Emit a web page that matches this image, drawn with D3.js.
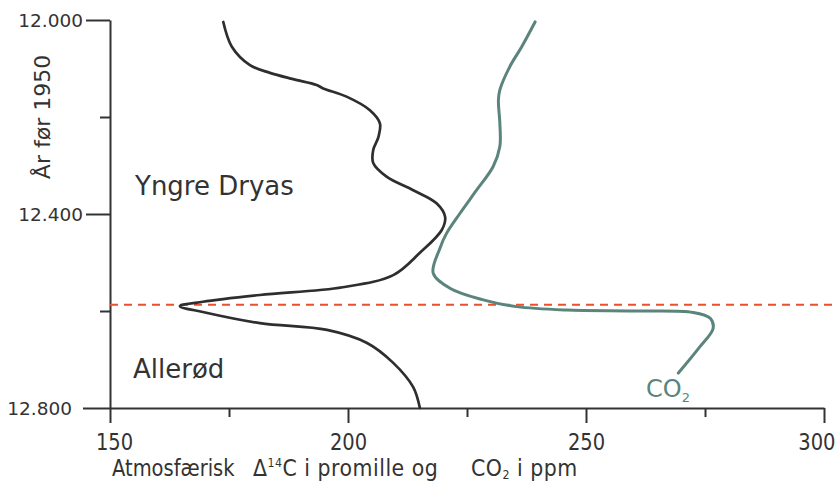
<!DOCTYPE html>
<html>
<head>
<meta charset="utf-8">
<script src="https://cdn.jsdelivr.net/npm/d3@7"></script>
<style>
  body { margin: 0; background: #fff; }
  svg { display: block; }
</style>
</head>
<body>
<svg id="chart" width="838" height="486"></svg>
<script>
// Year axis (years before 1950), reversed so older years are lower
const yearMajor = [12000, 12400, 12800];
const yearMinor = [12200, 12600];
const yearLabels = ["12.000", "12.400", "12.800"];

// Value axis: atmospheric Δ14C (per mille) and CO2 (ppm)
const valueMajor = [150, 200, 250, 300];
const valueMinor = [175, 225, 275];
const valueLabels = ["150", "200", "250", "300"];

// Δ14C record: [value, year]
const delta14C = [
  [173.8, 12004], [175.6, 12055], [179.4, 12093], [183.6, 12109],
  [188.5, 12122], [193.4, 12134], [194.8, 12141], [199.7, 12158],
  [204.6, 12186], [206.7, 12213], [206.4, 12241], [205.3, 12268],
  [205.3, 12295], [208.1, 12323], [213.7, 12351], [218.6, 12378],
  [220.4, 12406], [219.7, 12433], [215.1, 12480], [209.5, 12526],
  [198.9, 12551], [181.5, 12567], [169.5, 12581], [164.7, 12590],
  [169.5, 12602], [181.5, 12625], [195.6, 12639], [204.0, 12666],
  [209.5, 12707], [213.7, 12757], [215.1, 12800]
];

// CO2 record: [ppm, year]
const co2 = [
  [239.3, 12004], [236.5, 12055], [234.0, 12096], [231.9, 12144],
  [231.6, 12165], [231.9, 12213], [231.9, 12261], [230.5, 12302],
  [227.0, 12351], [223.5, 12399], [220.7, 12440], [219.3, 12471],
  [217.9, 12522], [221.4, 12553], [228.4, 12577], [235.4, 12591],
  [245.9, 12598], [259.9, 12600], [272.5, 12603], [276.1, 12615],
  [276.7, 12636], [273.9, 12674], [269.4, 12728]
];

// Younger Dryas / Allerød boundary
const boundaryYear = 12587;

const svg = d3.select("#chart");
const FONT = "'DejaVu Sans', sans-serif";
const AXIS = "#333";
const TEAL = "#5a847c";

const x = d3.scaleLinear().domain([150, 300]).range([110, 824]);
const y = d3.scaleLinear().domain([12000, 12800]).range([20, 408]);

// ---- Y axis ----
const yAxisG = svg.append("g").attr("transform", `translate(${x(150)},0)`);
yAxisG.call(
  d3.axisLeft(y).tickValues(yearMajor).tickSize(24).tickSizeOuter(0)
    .tickPadding(3).tickFormat((d, i) => yearLabels[i])
);
yAxisG.append("g").call(
  d3.axisLeft(y).tickValues(yearMinor).tickSize(10).tickSizeOuter(0).tickFormat("")
).select(".domain").remove();
yAxisG.selectAll("path, line").attr("stroke", AXIS).attr("stroke-width", 2);
yAxisG.selectAll("text")
  .attr("font-family", FONT).attr("font-size", 18.5).attr("fill", "#333")
  .attr("dy", "0.36em");
yAxisG.selectAll(".tick").filter(d => d === 12800).select("line").attr("x2", -27);
yAxisG.selectAll(".tick").filter(d => d === 12800).select("text").attr("x", -38);

// ---- X axis ----
const xAxisG = svg.append("g").attr("transform", `translate(0,${y(12800)})`);
xAxisG.call(
  d3.axisBottom(x).tickValues(valueMajor).tickSize(15).tickSizeOuter(0)
    .tickFormat((d, i) => valueLabels[i])
);
xAxisG.append("g").call(
  d3.axisBottom(x).tickValues(valueMinor).tickSize(9).tickSizeOuter(0).tickFormat("")
).select(".domain").remove();
xAxisG.selectAll("path, line").attr("stroke", AXIS).attr("stroke-width", 2);
xAxisG.selectAll(".tick text")
  .attr("font-family", FONT).attr("font-size", 19.5).attr("fill", "#333")
  .attr("y", 42 / 1.2).attr("dy", 0)
  .attr("transform", "scale(1,1.2)");
// the last label sits just inside the right edge
xAxisG.selectAll(".tick").filter(d => d === 300).select("text")
  .attr("text-anchor", "end").attr("x", 11);
xAxisG.selectAll(".tick").filter(d => d === 150).select("text").attr("x", 4);

// ---- boundary line ----
svg.append("line")
  .attr("x1", x(150)).attr("x2", 836)
  .attr("y1", y(boundaryYear)).attr("y2", y(boundaryYear))
  .attr("stroke", "#e8502e").attr("stroke-width", 2)
  .attr("stroke-dasharray", "8,6");

// ---- curves ----
const line = d3.line()
  .x(d => x(d[0])).y(d => y(d[1]))
  .curve(d3.curveCatmullRom.alpha(0.5));

svg.append("path").datum(delta14C)
  .attr("d", line).attr("fill", "none")
  .attr("stroke", "#2e2e2e").attr("stroke-width", 2.7)
  .attr("stroke-linejoin", "round").attr("stroke-linecap", "round");

svg.append("path").datum(co2)
  .attr("d", line).attr("fill", "none")
  .attr("stroke", TEAL).attr("stroke-width", 3)
  .attr("stroke-linejoin", "round").attr("stroke-linecap", "round");

// ---- period labels ----
svg.append("text").attr("x", 135).attr("y", 195)
  .attr("font-family", FONT).attr("font-size", 26).attr("fill", "#333")
  .text("Yngre Dryas");
svg.append("text").attr("x", 133).attr("y", 378)
  .attr("font-family", FONT).attr("font-size", 26).attr("fill", "#333")
  .text("Allerød");

// CO2 curve label
const co2Label = svg.append("text").attr("x", 646).attr("y", 397)
  .attr("font-family", FONT).attr("font-size", 24).attr("fill", TEAL);
co2Label.append("tspan").text("CO");
co2Label.append("tspan").attr("font-size", 13).attr("dy", 5).text("2");

// ---- axis titles ----
svg.append("text")
  .attr("transform", "translate(50,117) rotate(-90)")
  .attr("text-anchor", "middle")
  .attr("font-family", FONT).attr("font-size", 22).attr("fill", "#333")
  .text("År før 1950");

function titlePart(px, size, spacing) {
  return svg.append("g")
    .attr("transform", `translate(${px},476) scale(1,1.15)`)
    .append("text")
    .attr("font-family", FONT).attr("font-size", size)
    .attr("letter-spacing", spacing).attr("fill", "#333");
}
titlePart(112, 19.5, 0).text("Atmosfærisk");
const t2 = titlePart(253, 20.5, 0.5);
t2.append("tspan").text("Δ");
t2.append("tspan").attr("font-size", 11).attr("dy", -8).text("14");
t2.append("tspan").attr("dy", 8).text("C i promille og");
const t3 = titlePart(471, 20.5, 0.5);
t3.append("tspan").text("CO");
t3.append("tspan").attr("font-size", 11).attr("dy", 3).text("2");
t3.append("tspan").attr("dy", -3).text(" i ppm");
</script>
</body>
</html>
